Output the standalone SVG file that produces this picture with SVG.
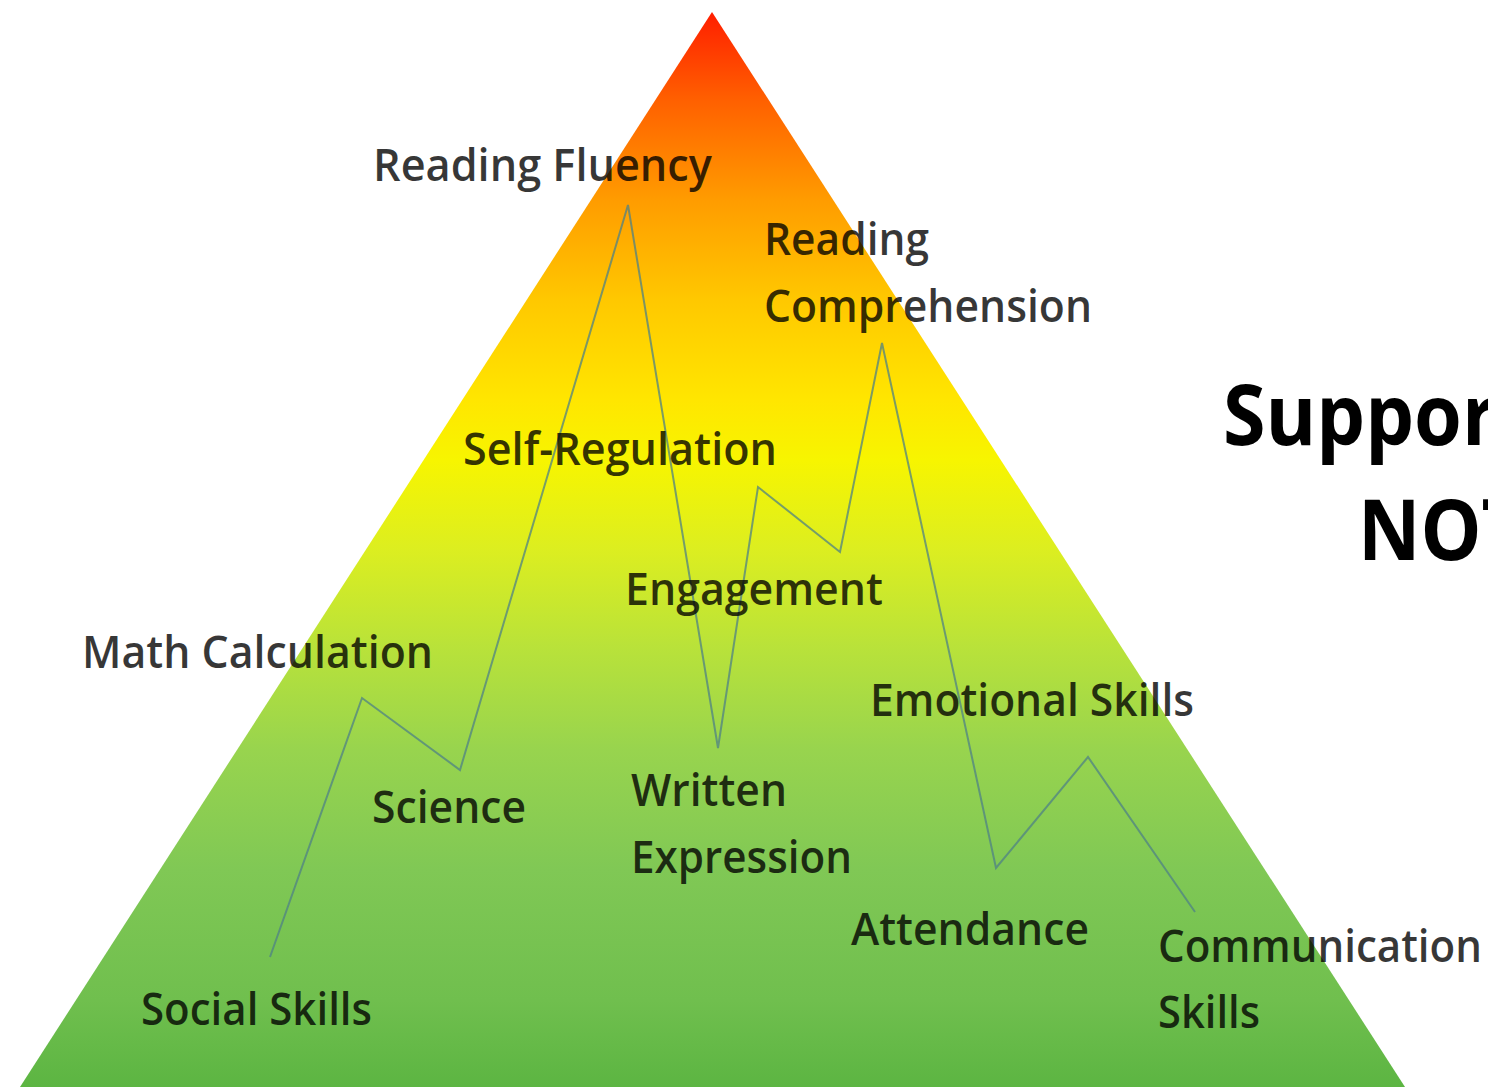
<svg xmlns="http://www.w3.org/2000/svg" width="1488" height="1089" viewBox="0 0 1488 1089">
  <defs>
    <linearGradient id="pyr" gradientUnits="userSpaceOnUse" x1="0" y1="12" x2="0" y2="1087">
      <stop offset="0" stop-color="#ff1e00"/>
      <stop offset="0.082" stop-color="#ff6000"/>
      <stop offset="0.175" stop-color="#ff9c00"/>
      <stop offset="0.268" stop-color="#ffc800"/>
      <stop offset="0.361" stop-color="#ffe600"/>
      <stop offset="0.417" stop-color="#f7f500"/>
      <stop offset="0.5" stop-color="#dcee20"/>
      <stop offset="0.593" stop-color="#b8e23a"/>
      <stop offset="0.686" stop-color="#98d44e"/>
      <stop offset="0.798" stop-color="#80c855"/>
      <stop offset="0.919" stop-color="#70bf4e"/>
      <stop offset="1" stop-color="#5cb542"/>
    </linearGradient>
  </defs>
  <style>
    .lbl { font-family: "Open Sans", "Liberation Sans", sans-serif; font-size: 46px; font-weight: 600; fill: #000; fill-opacity: 0.78; }
    .big { font-family: "Open Sans", "Liberation Sans", sans-serif; font-size: 84px; font-weight: bold; fill: #000; }
    .zig { fill: none; stroke: #4f8285; stroke-opacity: 0.75; stroke-width: 2; stroke-linejoin: miter; }
  </style>
  <rect width="1488" height="1089" fill="#ffffff"/>
  <polygon id="pyramid" points="712,12 1405,1087 20,1087" fill="url(#pyr)"/>
  <g id="connectors">
    <path class="zig" d="M270,957 L362,698 L460,770 L628,205 L718,748 L758,487 L840,552 L882,343 L996,868 L1088,757 L1195,912"/>
  </g>
  <g id="reading-fluency"><text class="lbl" x="373" y="181" textLength="339" lengthAdjust="spacingAndGlyphs">Reading Fluency</text></g>
  <g id="reading-comprehension">
    <text class="lbl" x="764" y="255" textLength="165" lengthAdjust="spacingAndGlyphs">Reading</text>
    <text class="lbl" x="764" y="322" textLength="328" lengthAdjust="spacingAndGlyphs">Comprehension</text>
  </g>
  <g id="self-regulation"><text class="lbl" x="463" y="465" textLength="314" lengthAdjust="spacingAndGlyphs">Self-Regulation</text></g>
  <g id="engagement"><text class="lbl" x="625" y="605" textLength="258" lengthAdjust="spacingAndGlyphs">Engagement</text></g>
  <g id="math-calculation"><text class="lbl" x="82" y="668" textLength="351" lengthAdjust="spacingAndGlyphs">Math Calculation</text></g>
  <g id="emotional-skills"><text class="lbl" x="870" y="716" textLength="324" lengthAdjust="spacingAndGlyphs">Emotional Skills</text></g>
  <g id="science"><text class="lbl" x="372" y="823" textLength="154" lengthAdjust="spacingAndGlyphs">Science</text></g>
  <g id="written-expression">
    <text class="lbl" x="631" y="806" textLength="156" lengthAdjust="spacingAndGlyphs">Written</text>
    <text class="lbl" x="631" y="873" textLength="221" lengthAdjust="spacingAndGlyphs">Expression</text>
  </g>
  <g id="attendance"><text class="lbl" x="851" y="945" textLength="238" lengthAdjust="spacingAndGlyphs">Attendance</text></g>
  <g id="communication-skills">
    <text class="lbl" x="1158" y="962" textLength="324" lengthAdjust="spacingAndGlyphs">Communication</text>
    <text class="lbl" x="1158" y="1028" textLength="102" lengthAdjust="spacingAndGlyphs">Skills</text>
  </g>
  <g id="social-skills"><text class="lbl" x="141" y="1025" textLength="231" lengthAdjust="spacingAndGlyphs">Social Skills</text></g>
  <g id="title">
    <text class="big" x="1223" y="445" textLength="274" lengthAdjust="spacingAndGlyphs">Suppor</text>
    <text class="big" x="1358" y="560" textLength="168" lengthAdjust="spacingAndGlyphs">NOT</text>
  </g>
</svg>
